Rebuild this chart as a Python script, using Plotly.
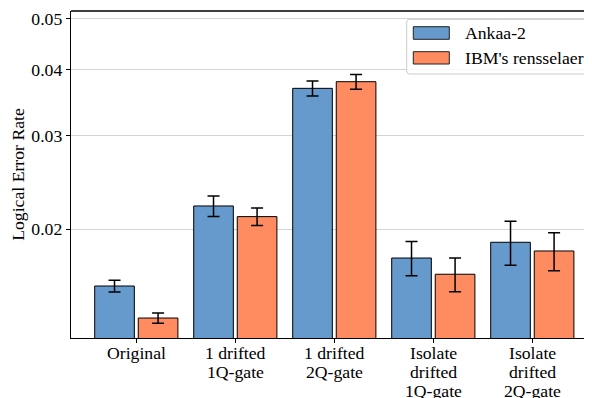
import plotly.graph_objects as go
import numpy as np

categories = ["Original", "1 drifted\n1Q-gate", "1 drifted\n2Q-gate",
              "Isolate\ndrifted\n1Q-gate", "Isolate\ndrifted\n2Q-gate"]
series_names = ["Ankaa-2", "IBM's rensselaer"]
ankaa = [0.01563, 0.02213, 0.03689, 0.01765, 0.01890]
ankaa_err = [0.00040, 0.00099, 0.00120, 0.00131, 0.00180]
ibm = [0.01360, 0.02113, 0.03797, 0.01645, 0.01820]
ibm_err = [0.00030, 0.00081, 0.00122, 0.00120, 0.00150]
y_ticks = [0.02, 0.03, 0.04, 0.05]
y_ticklabels = ["0.02", "0.03", "0.04", "0.05"]

colors = ["#6699CC", "#FF8C61"]
FONT = "'Liberation Serif', 'Times New Roman', Times, 'DejaVu Serif', serif"
FS = 17.7
OFF = 8  # page body margin
W, H = 592 - OFF, 398 - OFF
# reference pixel geometry of the plot area
RL, RT, RB = 71, 11, 338
L, T, B, R = RL - OFF, RT - OFF, 398 - RB, 0
pw, ph = W - L - R, H - T - B

def px(x):
    return (x - RL) / pw

def py(y):
    return (RB - y) / ph

xs = list(range(len(categories)))
fig = go.Figure()
for name, vals, errs, col in zip(series_names, [ankaa, ibm], [ankaa_err, ibm_err], colors):
    fig.add_trace(go.Bar(
        x=xs, y=vals, name=name,
        marker=dict(color=col, line=dict(color="black", width=1)),
        error_y=dict(type="data", array=errs, visible=True, color="black",
                     thickness=1.5, width=6),
        showlegend=False,
    ))

fig.update_layout(
    width=W, height=H,
    margin=dict(l=L, r=R, t=T, b=B, autoexpand=False),
    paper_bgcolor="white", plot_bgcolor="white",
    barmode="group", bargap=0.12, bargroupgap=0.09,
    font=dict(family=FONT, size=FS, color="black"),
)
fig.update_xaxes(
    range=[-0.6596, 4.603], tickvals=xs, ticktext=[""] * len(xs),
    ticks="outside", ticklen=4, tickwidth=1, tickcolor="black",
    showline=True, linecolor="black", linewidth=1.3, showgrid=False,
    zeroline=False,
)
fig.update_yaxes(
    type="log", range=[np.log10(0.01247), np.log10(0.05162)],
    tickvals=y_ticks, ticktext=y_ticklabels,
    ticks="outside", ticklen=4, tickwidth=1, tickcolor="black",
    tickfont=dict(family=FONT, size=FS, color="black"),
    showline=True, linecolor="black", linewidth=1.3,
    showgrid=True, gridcolor="#d4d4d4", gridwidth=1.4,
    zeroline=False,
    title=dict(text="Logical Error Rate", font=dict(family=FONT, size=FS, color="black"), standoff=8),
)

# top spine
fig.add_shape(type="line", xref="paper", yref="paper", x0=0, x1=1, y0=1, y1=1,
              line=dict(color="black", width=1.3))

# category labels, line by line
line_h = 19.2
for i, lab in enumerate(categories):
    for k, line in enumerate(lab.split("\n")):
        fig.add_annotation(x=i, xref="x", y=0, yref="paper", text=line,
                           showarrow=False, yanchor="top", xanchor="center",
                           yshift=-3 - k * line_h,
                           font=dict(size=FS, family=FONT, color="black"))

# legend
x0, x1, y0, y1 = 406.7, 589.0, 19.3, 74.0
r = 3
pathpx = [
    (x0 + r, y0), (x1 - r, y0), (x1, y0), (x1, y0 + r), (x1, y1 - r), (x1, y1),
    (x1 - r, y1), (x0 + r, y1), (x0, y1), (x0, y1 - r), (x0, y0 + r), (x0, y0), (x0 + r, y0)
]
P = [(px(a), py(b)) for a, b in pathpx]
path = (f"M{P[0][0]},{P[0][1]} L{P[1][0]},{P[1][1]} Q{P[2][0]},{P[2][1]} {P[3][0]},{P[3][1]} "
        f"L{P[4][0]},{P[4][1]} Q{P[5][0]},{P[5][1]} {P[6][0]},{P[6][1]} "
        f"L{P[7][0]},{P[7][1]} Q{P[8][0]},{P[8][1]} {P[9][0]},{P[9][1]} "
        f"L{P[10][0]},{P[10][1]} Q{P[11][0]},{P[11][1]} {P[12][0]},{P[12][1]} Z")
fig.add_shape(type="path", xref="paper", yref="paper", path=path,
              line=dict(color="#cccccc", width=1), fillcolor="rgba(255,255,255,0.8)")
patch_y = [(26.7, 39.3), (51.7, 64.0)]
for (ya, yb), name, col in zip(patch_y, series_names, colors):
    fig.add_shape(type="rect", xref="paper", yref="paper",
                  x0=px(413.3), x1=px(449.3), y0=py(yb), y1=py(ya),
                  line=dict(color="#222222", width=1), fillcolor=col)
    fig.add_annotation(x=px(462.5), y=py((ya + yb) / 2), xref="paper", yref="paper",
                       text=name, showarrow=False, xanchor="left", yanchor="middle",
                       font=dict(size=FS, family=FONT, color="black"))

fig.write_html("out.html")
